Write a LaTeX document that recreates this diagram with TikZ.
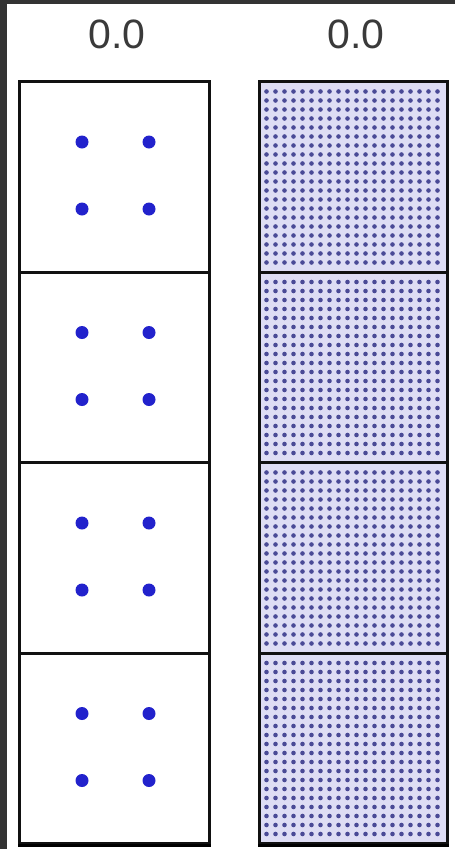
\documentclass[tikz,border=0pt]{standalone}
\usepackage{fontspec}
\setmainfont{Liberation Sans}
\usepackage{xcolor}
\usepackage{tikz}
\usetikzlibrary{positioning}
\definecolor{frame}{HTML}{333333}
\definecolor{ink}{HTML}{111111}
\definecolor{labelgray}{HTML}{3A3A3A}
\definecolor{pip}{HTML}{2222CC}
\definecolor{lavender}{HTML}{DEDDF4}
\definecolor{grain}{HTML}{4A4A96}
\definecolor{baseline}{HTML}{6E6E6E}
\tikzset{
  cell/.style={
    draw=ink, line width=3pt, fill=white, inner sep=0pt,
    minimum width=190pt, minimum height=190.5pt, anchor=north west
  },
  dotcell/.style={cell, minimum width=188pt, fill=lavender,
    path picture={
      \foreach \i in {0,...,19} {
        \foreach \j in {0,...,19} {
          \fill[grain] ([xshift={7pt+9pt*\i}, yshift={-10pt-9pt*\j}]path picture bounding box.north west) circle[radius=2.3pt];
        }
      }
    }
  },
  pipdot/.style={fill=pip},
  value/.style={font=\fontsize{41}{44}\selectfont, text=labelgray, inner sep=0pt}
}
\begin{document}
\begin{tikzpicture}[x=1pt,y=-1pt]
  \useasboundingbox (0,0) rectangle (455,849);
  \fill[frame] (0,0) rectangle (455,849);
  \fill[white] (7,3.5) rectangle (455,849);

  \node[value] (valL) at (117,34) {0.0};
  \node[value] (valR) at (356,34) {0.0};

  % left column: four cells with four pips each
  \foreach \k in {1,...,4} {
    \node[cell] (L\k) at (18,{80+190.5*(\k-1)}) {};
    \fill[pipdot] ([xshift=64pt, yshift=-62pt]L\k.north west) circle[radius=6.5pt];
    \fill[pipdot] ([xshift=131pt, yshift=-62pt]L\k.north west) circle[radius=6.5pt];
    \fill[pipdot] ([xshift=64pt, yshift=-129pt]L\k.north west) circle[radius=6.5pt];
    \fill[pipdot] ([xshift=131pt, yshift=-129pt]L\k.north west) circle[radius=6.5pt];
  }

  % right column: dotted fill
  \foreach \k in {1,...,4} {
    \node[dotcell] (R\k) at (258,{80+190.5*(\k-1)}) {};
  }

  \draw[baseline, line width=3pt] (L4.south west) -- (L4.south east);
  \draw[baseline, line width=3pt] (R4.south west) -- (R4.south east);
\end{tikzpicture}
\end{document}
